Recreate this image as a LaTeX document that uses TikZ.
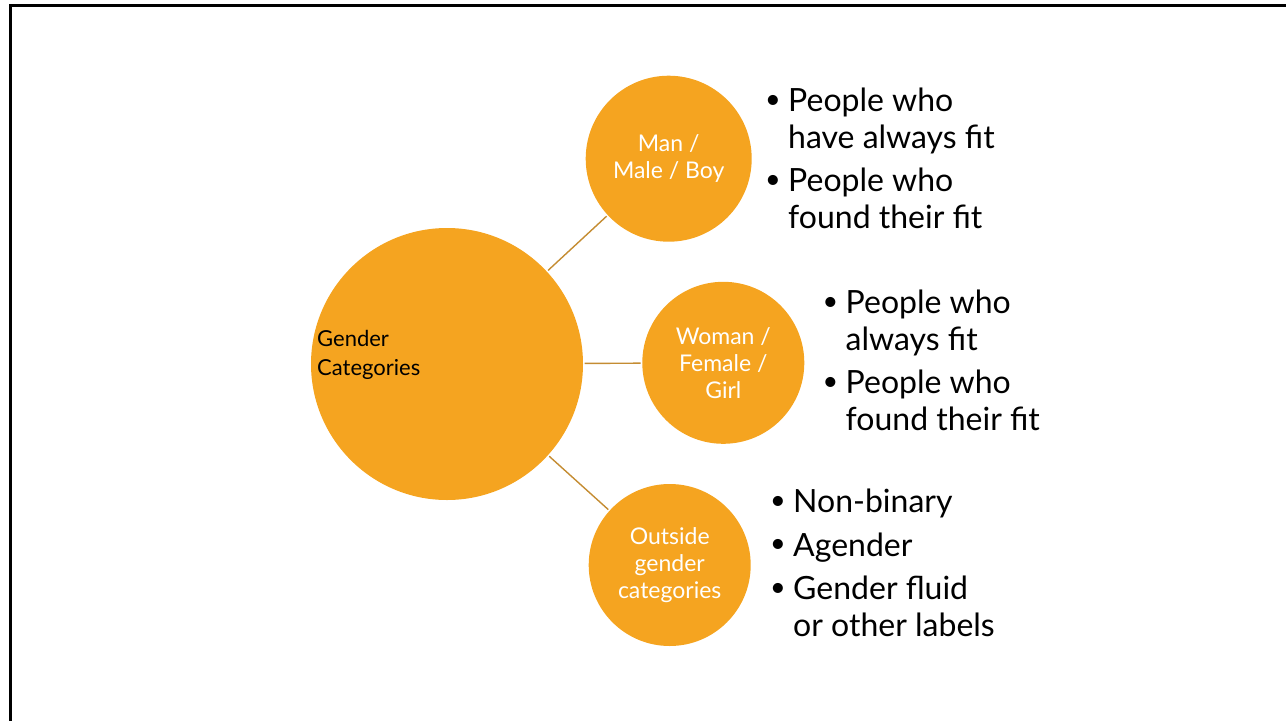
\documentclass[tikz,border=0pt]{standalone}
\usepackage{fontspec}
\setmainfont{Lato}
\definecolor{catorange}{RGB}{245,164,32}
\definecolor{catline}{RGB}{196,140,50}
\newcommand{\blt}{\makebox[23pt][l]{\raisebox{3.5pt}{\fontsize{27}{27}\selectfont\textbullet}}}
\newcommand{\bltgap}{\hspace*{23pt}}

\begin{document}
\begin{tikzpicture}[x=1pt, y=-1pt,
    bigcat/.style={circle, fill=catorange, minimum size=272pt, inner sep=0pt},
    subcat/.style={circle, fill=catorange, inner sep=0pt, text=white, align=center,
        font=\fontsize{23}{27}\selectfont},
    branch/.style={draw=catline, line width=1.4pt, shorten <=1.5pt, shorten >=1.5pt},
    itemlist/.style={align=left, anchor=north west, inner sep=0pt,
        font=\fontsize{32}{36.7}\selectfont}]
    %%%%% frame %%%%%
    \useasboundingbox (0, 0) rectangle (1286, 721);
    \draw[line width=3pt] (1286, 5.5) -- (10.5, 5.5) -- (10.5, 721);

    %%%%% circles %%%%%
    \node[bigcat] (gender) at (447, 364) {};
    \node[anchor=west, align=left, inner sep=0pt, font=\fontsize{22}{29}\selectfont]
        (genderlabel) at (317, 355) {Gender\\Categories};

    \node[subcat, minimum size=166pt] (man) at (668.7, 158.7) {Man /\\Male / Boy};
    \node[subcat, minimum size=162pt] (woman) at (723.3, 362.8) {Woman /\\Female /\\Girl};
    \node[subcat, minimum size=162pt] (outside) at (669.7, 565) {Outside\\gender\\categories};

    \draw[branch] (gender) -- (man);
    \draw[branch] (gender) -- (woman);
    \draw[branch] (gender) -- (outside);

    %%%%% bullet lists %%%%%
    \node[itemlist] (manlist) at (765, 88) {\blt People who\\ \bltgap have always fit\\[6.7pt]
        \blt People who\\ \bltgap found their fit};
    \node[itemlist] (womanlist) at (822.5, 290) {\blt People who\\ \bltgap always fit\\[6.7pt]
        \blt People who\\ \bltgap found their fit};
    \node[itemlist] (outsidelist) at (770, 489) {\blt Non-binary\\[6.7pt]
        \blt Agender\\[6.7pt]
        \blt Gender fluid\\ \bltgap or other labels};
\end{tikzpicture}
\end{document}
